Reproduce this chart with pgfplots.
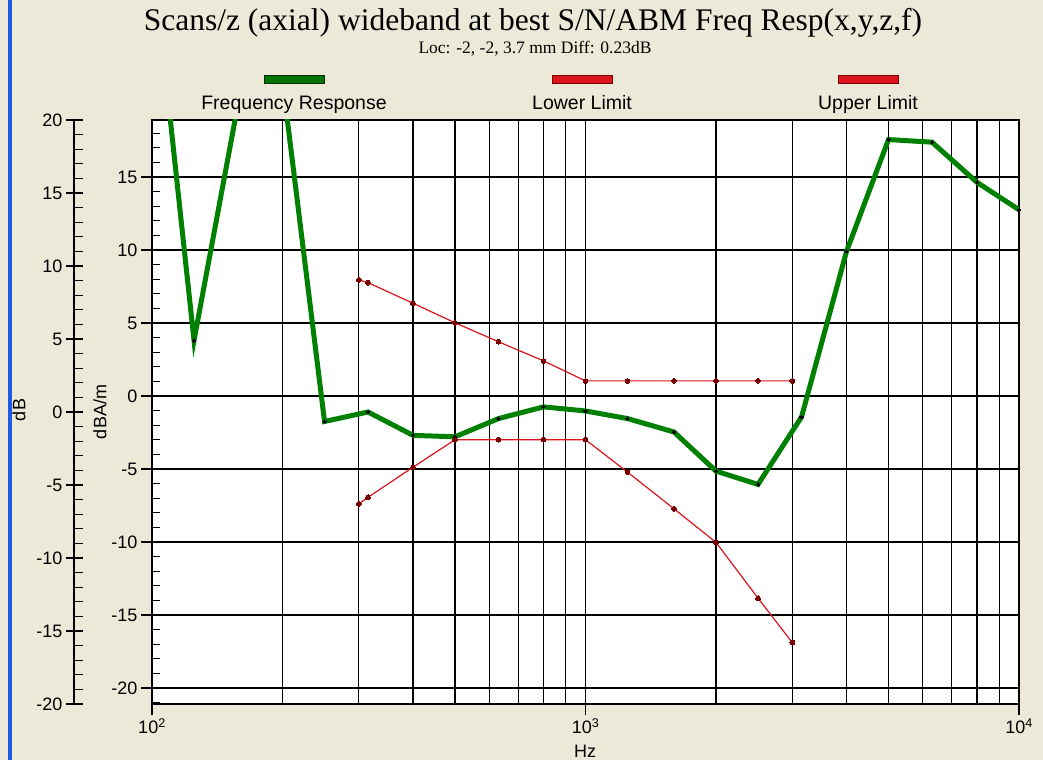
\documentclass[border=0pt]{standalone}
\usepackage{pgfplots}
\pgfplotsset{compat=1.18}
\usepackage{fontspec}
\setmainfont{Liberation Sans}
\newfontfamily\serif{Liberation Serif}
\definecolor{bg}{RGB}{236,233,216}
\definecolor{fr}{RGB}{0,128,0}
\definecolor{lim}{RGB}{220,20,30}
\definecolor{limdot}{RGB}{120,0,0}
\definecolor{xpblue}{RGB}{30,90,230}

\pgfplotstableread{
f db
100 30.6
125 3.8
160 20.9
200 21.6
250 -1.75
315 -1.1
400 -2.7
500 -2.8
630 -1.55
800 -0.75
1000 -1.03
1250 -1.55
1600 -2.47
2000 -5.15
2500 -6.06
3150 -1.44
4000 9.9
5000 17.56
6300 17.38
8000 14.63
10000 12.75
}\freqresptab

\pgfplotstableread{
f db
300 7.95
315 7.76
400 6.35
500 5.01
630 3.71
800 2.4
1000 1.03
1250 1.03
1600 1.03
2000 1.03
2500 1.03
3000 1.03
}\upplimtab

\pgfplotstableread{
f db
300 -7.39
315 -6.94
400 -4.88
500 -3.0
630 -3.0
800 -3.0
1000 -3.0
1250 -5.22
1600 -7.73
2000 -10.03
2500 -13.85
3000 -16.9
}\lowlimtab

\pgfplotsset{
  every axis/.append style={scale only axis, anchor=south west, height=584pt,
    tick label style={font=\fontsize{18}{18}\selectfont, black},
    tick style={black, line width=1.2pt},
    axis line style={black, line width=1.2pt, -}},
}

\begin{document}
\begin{tikzpicture}[x=1pt,y=1pt]
\fill[bg] (0,0) rectangle (1043,760);
\fill[xpblue] (8,0) rectangle (12,760);

% outer dB axis: labels and outside ticks
\begin{axis}[at={(74pt,56pt)}, width=1pt, xmin=0, xmax=1, ymin=-20, ymax=20,
  hide x axis, axis y line*=left,
  ytick={-20,-15,...,20}, yticklabels={-20,-15,-10,-5,0,5,10,15,20},
  tick align=outside, major tick length=8pt]
\end{axis}
% outer dB axis: inside ticks
\begin{axis}[at={(74pt,56pt)}, width=1pt, xmin=0, xmax=1, ymin=-20, ymax=20,
  hide x axis, axis y line*=left,
  ytick={-20,-19,...,20}, yticklabels={},
  tick align=inside, major tick length=9pt]
\end{axis}

% main axis
\begin{axis}[at={(152pt,56pt)}, width=867pt,
  xmode=log, xmin=100, xmax=10000, ymin=-21.1, ymax=18.9,
  xtick={100,1000,10000},
  xticklabels={10\textsuperscript{2},10\textsuperscript{3},10\textsuperscript{4}},
  minor xtick={200,300,400,500,600,700,800,900,2000,3000,4000,5000,6000,7000,8000,9000},
  ytick={-20,-15,...,15}, yticklabels={-20,-15,-10,-5,0,5,10,15},
  xmajorgrids, xminorgrids, ymajorgrids,
  major grid style={black, line width=1.2pt},
  minor grid style={black, line width=1.2pt},
  tick align=outside, major tick length=11pt, minor tick length=0pt,
  tick pos=left,
  axis background/.style={fill=white}]
\addplot[fr, line width=5pt, mark=*, mark size=1.6pt,
  mark options={fill=black, draw=black, line width=0pt}] table[x=f, y=db] {\freqresptab};
\addplot[lim, line width=1.2pt, mark=*, mark size=2.4pt,
  mark options={fill=limdot, draw=limdot, line width=0pt}] table[x=f, y=db] {\upplimtab};
\addplot[lim, line width=1.2pt, mark=*, mark size=2.4pt,
  mark options={fill=limdot, draw=limdot, line width=0pt}] table[x=f, y=db] {\lowlimtab};
\end{axis}
% inner axis minor ticks (inside)
\begin{axis}[at={(152pt,56pt)}, width=867pt, xmin=0, xmax=1, ymin=-21.1, ymax=18.9,
  hide x axis, axis y line*=left,
  ytick={-21,-20,...,18}, yticklabels={},
  tick align=inside, major tick length=8pt]
\end{axis}

% titles
\node[anchor=base, font=\serif\fontsize{31.5}{31.5}\selectfont] at (533,729)
  {Scans/z (axial) wideband at best S/N/ABM Freq Resp(x,y,z,f)};
\node[anchor=base, font=\serif\fontsize{17.5}{17.5}\selectfont] at (535,706)
  {Loc: -2, -2, 3.7 mm Diff: 0.23dB};

% legend
\filldraw[fill=fr!90!black, draw=black!60!fr, line width=1pt] (264,676) rectangle (324,684);
\filldraw[fill=lim, draw=limdot, line width=1pt] (552,676) rectangle (612,684);
\filldraw[fill=lim, draw=limdot, line width=1pt] (838,676) rectangle (898,684);
\node[anchor=base, font=\fontsize{19.5}{19.5}\selectfont] at (294,650) {Frequency Response};
\node[anchor=base, font=\fontsize{19.5}{19.5}\selectfont] at (582,650) {Lower Limit};
\node[anchor=base, font=\fontsize{19.5}{19.5}\selectfont] at (868,650) {Upper Limit};

% axis labels
\node[rotate=90, font=\fontsize{18}{18}\selectfont] at (19,350) {dB};
\node[rotate=90, font=\fontsize{18}{18}\selectfont] at (100,348) {dBA/m};
\node[font=\fontsize{18}{18}\selectfont] at (585,9) {Hz};

\useasboundingbox (0,0) rectangle (1043,760);
\end{tikzpicture}
\end{document}
